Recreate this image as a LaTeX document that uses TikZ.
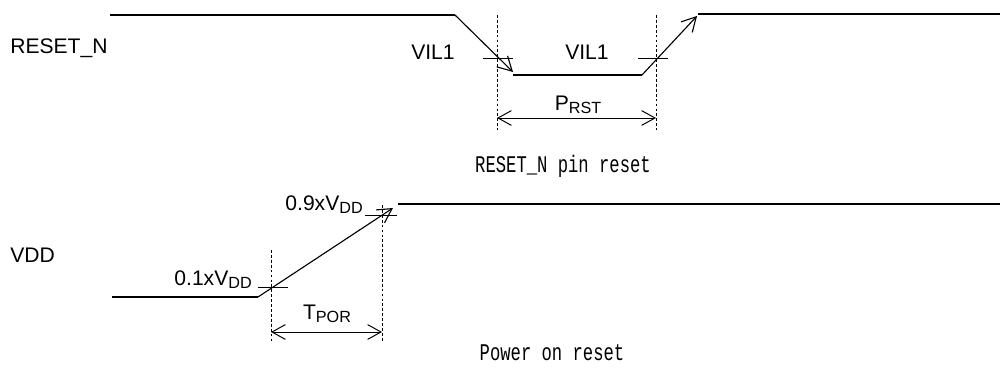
\documentclass[tikz,border=0pt]{standalone}
\usepackage{fontspec}
\setmainfont{Liberation Sans}
\newfontfamily\capfont{Liberation Mono}
\usepackage{graphicx}
\usetikzlibrary{arrows.meta,positioning}
\newcommand{\lowtxt}[1]{\raisebox{-1.5pt}{\fontsize{11.5}{13}\selectfont #1}}
\newcommand{\captxt}[1]{\scalebox{0.72}[1]{\capfont\fontsize{17}{20}\selectfont #1}}
\tikzset{
  sig/.style={line width=0.8pt},
  guide/.style={line width=0.5pt,dash pattern=on 2pt off 1.5pt},
  mark line/.style={line width=0.6pt},
  lbl/.style={font=\fontsize{15}{18}\selectfont,inner sep=0pt},
  opentip/.style={-{Straight Barb[length=10pt,width=11pt]}},
  span/.style={{Straight Barb[length=9.5pt,width=10.5pt]}-{Straight Barb[length=9.5pt,width=10.5pt]},line width=0.7pt}
}
\begin{document}
\begin{tikzpicture}[x=0.025cm,y=-0.025cm]
\useasboundingbox (0,0) rectangle (1000,373);
% RESET_N waveform
\coordinate (r0) at (110,15);
\coordinate (r1) at (455,15);
\coordinate (r2) at (513,72);
\coordinate (r3) at (513,75);
\coordinate (r4) at (642,75);
\coordinate (r5) at (697,16);
\coordinate (r6) at (698,14);
\coordinate (r7) at (1000,14);
\draw [sig] (r0) -- (r1);
\draw [sig,opentip] (r1) -- (r2);
\draw [sig] (r3) -- (r4);
\draw [sig,opentip] (r4) -- (r5);
\draw [sig] (r6) -- (r7);
\coordinate (ga0) at (497,15);
\coordinate (ga1) at (497,130);
\coordinate (gb0) at (656,15);
\coordinate (gb1) at (656,130);
\draw [guide] (ga0) -- (ga1);
\draw [guide] (gb0) -- (gb1);
\draw [mark line] (483,58) coordinate (ta0) -- (513,58) coordinate (ta1);
\draw [mark line] (638,58) coordinate (tb0) -- (668,58) coordinate (tb1);
\node [lbl,anchor=west] (rstname) at (10,48) {RESET\_N};
\node [lbl] (vilfall) at (433,52) {VIL1};
\node [lbl] (vilrise) at (587,52) {VIL1};
\coordinate (pa) at (497,118);
\coordinate (pb) at (656,118);
\draw [span] (pa) -- (pb);
\node [lbl,anchor=base] (prst) at (578,111) {P\lowtxt{RST}};
\node [inner sep=0pt] (rstcap) at (563,166) {\captxt{RESET\_N pin reset}};
% VDD waveform
\coordinate (v0) at (112,297);
\coordinate (v1) at (258,297);
\coordinate (v2) at (393,208);
\coordinate (v3) at (398,204);
\coordinate (v4) at (1000,204);
\draw [sig] (v0) -- (v1);
\draw [sig,opentip] (v1) -- (v2);
\draw [sig] (v3) -- (v4);
\coordinate (gc0) at (271,250);
\coordinate (gc1) at (271,342);
\coordinate (gd0) at (382,205);
\coordinate (gd1) at (382,342);
\draw [guide] (gc0) -- (gc1);
\draw [guide] (gd0) -- (gd1);
\draw [mark line] (258,287) coordinate (tc0) -- (288,287) coordinate (tc1);
\draw [mark line] (365,215) coordinate (td0) -- (397,215) coordinate (td1);
\node [lbl,anchor=west] (vddname) at (10,255) {VDD};
\node [lbl,anchor=base east] (lowpct) at (252,286) {0.1xV\lowtxt{DD}};
\node [lbl,anchor=base east] (highpct) at (363,211) {0.9xV\lowtxt{DD}};
\coordinate (qa) at (271,332);
\coordinate (qb) at (382,332);
\draw [span] (qa) -- (qb);
\node [lbl,anchor=base] (tpor) at (327,320) {T\lowtxt{POR}};
\node [inner sep=0pt] (porcap) at (552,353) {\captxt{Power on reset}};
\end{tikzpicture}
\end{document}
